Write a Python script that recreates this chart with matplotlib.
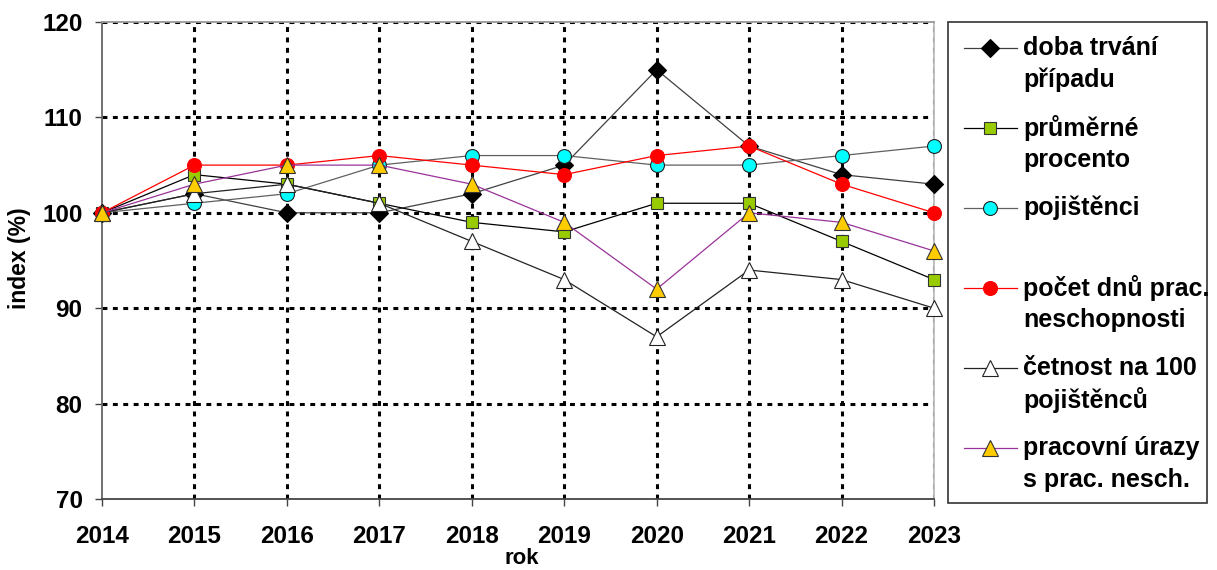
import matplotlib.pyplot as plt
from matplotlib.lines import Line2D
from matplotlib.patches import Rectangle

plt.rcParams['font.family'] = ['Liberation Sans', 'DejaVu Sans']
plt.rcParams['font.weight'] = 'bold'

years = [2014, 2015, 2016, 2017, 2018, 2019, 2020, 2021, 2022, 2023]

doba_trvani = [100, 102, 100, 100, 102, 105, 115, 107, 104, 103]
prumerne_procento = [100, 104, 103, 101, 99, 98, 101, 101, 97, 93]
pojistenci = [100, 101, 102, 105, 106, 106, 105, 105, 106, 107]
pocet_dnu = [100, 105, 105, 106, 105, 104, 106, 107, 103, 100]
cetnost = [100, 102, 103, 101, 97, 93, 87, 94, 93, 90]
pracovni_urazy = [100, 103, 105, 105, 103, 99, 92, 100, 99, 96]

labels = ['doba trvání\npřípadu', 'průměrné\nprocento', 'pojištěnci',
          'počet dnů prac.\nneschopnosti', 'četnost na 100\npojištěnců',
          'pracovní úrazy\ns prac. nesch.']

# (data, line colour, marker, marker face, marker edge, marker size)
series = [
    (doba_trvani, '#404040', 'D', 'black', 'black', 9),
    (prumerne_procento, 'black', 's', '#99CC00', '#333333', 8),
    (pojistenci, '#606060', 'o', '#00FFFF', '#222222', 10),
    (pocet_dnu, '#FF0000', 'o', '#FF0000', '#FF0000', 10),
    (cetnost, '#222222', '^', 'white', '#222222', 12),
    (pracovni_urazy, '#993399', '^', '#FFCC00', '#333333', 12),
]

W, H = 1217, 570
fig = plt.figure(figsize=(W / 100, H / 100), dpi=100)
ax = fig.add_axes([102 / W, 1 - 499 / H, (934 - 102) / W, (499 - 22) / H])

ax.set_xlim(2014, 2023)
ax.set_ylim(70, 120)
ax.set_xticks(years)
ax.set_yticks(range(70, 121, 10))

# dotted grid (not on the left/bottom spine)
for y in range(80, 121, 10):
    ax.axhline(y, color='black', lw=2.2, ls=(0, (1.6, 1.8)), zorder=1)
for x in years[1:]:
    ax.axvline(x, color='black', lw=2.2, ls=(0, (1.6, 1.8)), zorder=1)

for data, lc, mk, mfc, mec, ms in series:
    ax.plot(years, data, color=lc, lw=0.9, marker=mk, markersize=ms,
            markerfacecolor=mfc, markeredgecolor=mec, markeredgewidth=0.8,
            clip_on=False, zorder=3)

ax.spines['left'].set_color('#666666')
ax.spines['bottom'].set_color('#444444')
ax.spines['top'].set_color('#999999')
ax.spines['right'].set_color('#bbbbbb')
for s in ax.spines.values():
    s.set_linewidth(1.3)

ax.tick_params(axis='both', direction='out', length=5, width=1, color='#444444',
               labelsize=17.5)
ax.tick_params(axis='x', pad=14)
ax.tick_params(axis='y', pad=9)
for t in ax.get_xticklabels() + ax.get_yticklabels():
    t.set_fontweight('bold')

fig.text(20 / W, 1 - 258 / H, 'index (%)', fontsize=16.5, fontweight='bold',
         rotation=90, ha='center', va='center')
fig.text(522 / W, 1 - 559 / H, 'rok', fontsize=16, fontweight='bold',
         ha='center', va='center')

# legend drawn by hand (handles sit on the first line of each label)
fig.patches.append(Rectangle((948 / W, 1 - 503 / H), (1207 - 948) / W, (503 - 22) / H,
                             transform=fig.transFigure, facecolor='white',
                             edgecolor='#333333', lw=1.2))
for i, ((data, lc, mk, mfc, mec, ms), lab) in enumerate(zip(series, labels)):
    yp = 48 + 80 * i
    fy = 1 - yp / H
    fig.lines.append(Line2D([964 / W, 1017 / W], [fy, fy], transform=fig.transFigure,
                            color=lc, lw=0.9))
    fig.lines.append(Line2D([990 / W], [fy], transform=fig.transFigure,
                            marker=mk, markersize=ms, markerfacecolor=mfc,
                            markeredgecolor=mec, markeredgewidth=0.8, ls='none'))
    for j, line in enumerate(lab.split('\n')):
        fig.text(1023 / W, 1 - (yp + 32 * j) / H, line, fontsize=18,
                 fontweight='bold', ha='left', va='center')

fig.savefig('out.png', dpi=100)
